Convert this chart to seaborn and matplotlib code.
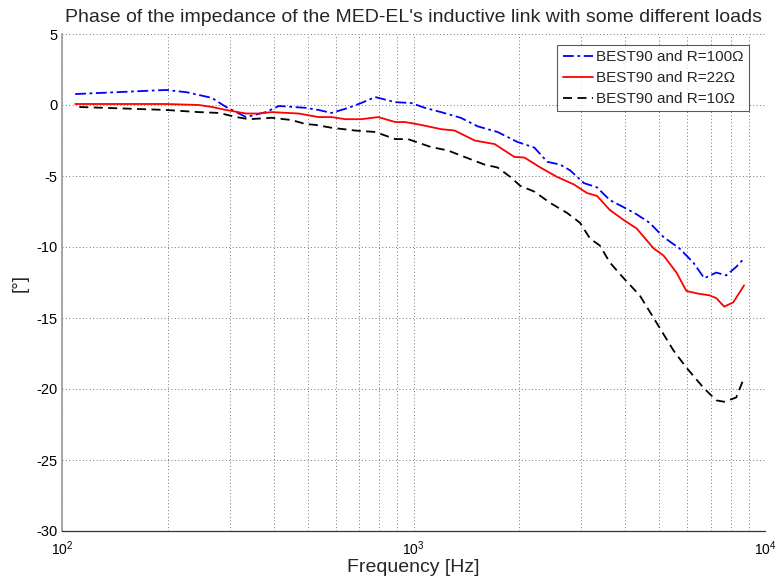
import numpy as np
import pandas as pd
import matplotlib
matplotlib.use("Agg")
import matplotlib.pyplot as plt
import seaborn as sns
from matplotlib.ticker import LogLocator

# ---- data ----
freq_100 = [109, 198, 226, 267, 293, 334, 380, 414, 493, 537, 584, 653, 710, 778, 887, 984,
            1078, 1197, 1362, 1522, 1734, 1975, 2207, 2402, 2613, 2789, 3055, 3326, 3621,
            3963, 4315, 4697, 5144, 5710, 6255, 6718, 7267, 7758, 8280, 8721]
phase_100 = [0.77, 1.06, 0.9, 0.5, -0.14, -0.85, -0.5, -0.07, -0.2, -0.35, -0.56, -0.2, 0.14,
             0.56, 0.2, 0.14, -0.2, -0.5, -0.9, -1.5, -1.9, -2.6, -3.0, -4.0, -4.2, -4.6,
             -5.5, -5.8, -6.7, -7.2, -7.7, -8.3, -9.3, -10.1, -11.1, -12.2, -11.8, -12.0,
             -11.4, -10.8]

freq_22 = [109, 198, 245, 267, 293, 334, 363, 395, 471, 537, 584, 640, 710, 794, 887, 946,
           1050, 1197, 1310, 1493, 1701, 1937, 2068, 2295, 2563, 2863, 3116, 3326, 3621,
           3963, 4315, 4822, 5144, 5600, 5977, 6504, 6943, 7267, 7656, 8120, 8721]
phase_22 = [0.07, 0.07, 0.0, -0.14, -0.35, -0.6, -0.6, -0.5, -0.6, -0.85, -0.85, -1.0, -1.0,
            -0.85, -1.2, -1.2, -1.4, -1.7, -1.8, -2.5, -2.75, -3.66, -3.7, -4.4, -5.07, -5.6,
            -6.2, -6.4, -7.4, -8.1, -8.7, -10.1, -10.6, -11.8, -13.1, -13.3, -13.4, -13.6,
            -14.2, -13.9, -12.7]

freq_10 = [112, 198, 245, 280, 313, 340, 395, 450, 493, 526, 584, 683, 778, 887, 964, 1121,
           1252, 1398, 1594, 1734, 1887, 2014, 2207, 2450, 2735, 2978, 3177, 3390, 3621,
           3963, 4400, 4822, 5495, 5977, 6677, 7267, 7656, 8280, 8721]
phase_10 = [-0.14, -0.35, -0.5, -0.56, -0.85, -1.0, -0.9, -1.06, -1.34, -1.4, -1.6, -1.8,
            -1.9, -2.4, -2.4, -2.96, -3.2, -3.66, -4.2, -4.4, -5.07, -5.7, -6.1, -6.9, -7.6,
            -8.3, -9.4, -9.9, -11.1, -12.2, -13.4, -15.0, -17.3, -18.5, -19.9, -20.8, -20.9,
            -20.6, -19.2]

labels = ["BEST90 and R=100\u03a9", "BEST90 and R=22\u03a9", "BEST90 and R=10\u03a9"]
title = "Phase of the impedance of the MED-EL's inductive link with some different loads"
xlabel = "Frequency [Hz]"
ylabel = "[\u00b0]"
yticks = [5, 0, -5, -10, -15, -20, -25, -30]

# ---- style ----
sns.set_theme(style="white")
plt.rcParams["font.family"] = ["Liberation Sans", "DejaVu Sans"]
plt.rcParams["mathtext.fontset"] = "custom"
plt.rcParams["mathtext.rm"] = "Liberation Sans"
plt.rcParams["mathtext.it"] = "Liberation Sans"
plt.rcParams["mathtext.default"] = "regular"
plt.rcParams["axes.unicode_minus"] = False

fig = plt.figure(figsize=(7.77, 5.84), dpi=100, facecolor="white")
x0, x1, ytop, ybot = 62, 765, 34, 531
ax = fig.add_axes([x0 / 777, 1 - ybot / 584, (x1 - x0) / 777, (ybot - ytop) / 584])

series = [
    (freq_100, phase_100, labels[0], "#0000ff", (0, (6, 2, 1.5, 2))),
    (freq_22, phase_22, labels[1], "#ff0000", "-"),
    (freq_10, phase_10, labels[2], "#000000", (0, (5, 3))),
]
for f, p, lab, col, ls in series:
    df = pd.DataFrame({"f": f, "p": p})
    sns.lineplot(data=df, x="f", y="p", ax=ax, color=col, linewidth=1.3,
                 linestyle=ls, label=lab, estimator=None, sort=False)

ax.set_xscale("log")
ax.set_xlim(100, 10000)
ax.set_ylim(-30, 5)
ax.set_yticks(yticks)
ax.xaxis.set_major_locator(LogLocator(base=10, numticks=10))
ax.xaxis.set_minor_locator(LogLocator(base=10, subs=np.arange(2, 10), numticks=20))

gridkw = dict(linestyle=(0, (1, 2.5)), color="#777777", linewidth=0.7)
ax.grid(True, which="major", **gridkw)
ax.grid(True, which="minor", axis="x", **gridkw)

ax.tick_params(axis="both", which="both", direction="in", top=False, right=False,
               labelsize=10.5, colors="#333333", labelcolor="black")
ax.tick_params(axis="y", pad=3)
ax.tick_params(axis="x", pad=6, labelsize=10)
ax.tick_params(which="major", length=4, width=0.8)
ax.tick_params(which="minor", length=2.5, width=0.6)
ax.spines["top"].set_visible(False)
ax.spines["right"].set_visible(False)
ax.spines["left"].set_color("#999999")
ax.spines["left"].set_linewidth(1.2)
ax.spines["bottom"].set_color("#333333")
ax.spines["bottom"].set_linewidth(0.9)

ax.set_title(title, fontsize=14, pad=9)
ax.set_xlabel(xlabel, fontsize=14, labelpad=1)
ax.set_ylabel(ylabel, fontsize=13.5, labelpad=6)

anchor = ((749 - x0) / (x1 - x0), 1 - (45 - ytop) / (ybot - ytop))
leg = ax.legend(loc="upper right", bbox_to_anchor=anchor, borderaxespad=0,
                fontsize=11, frameon=True, fancybox=False,
                edgecolor="#333333", borderpad=0.35, labelspacing=0.45, handlelength=2.0,
                handletextpad=0.2)
leg.get_frame().set_linewidth(0.8)

fig.savefig("out.png", dpi=100, facecolor="white")
